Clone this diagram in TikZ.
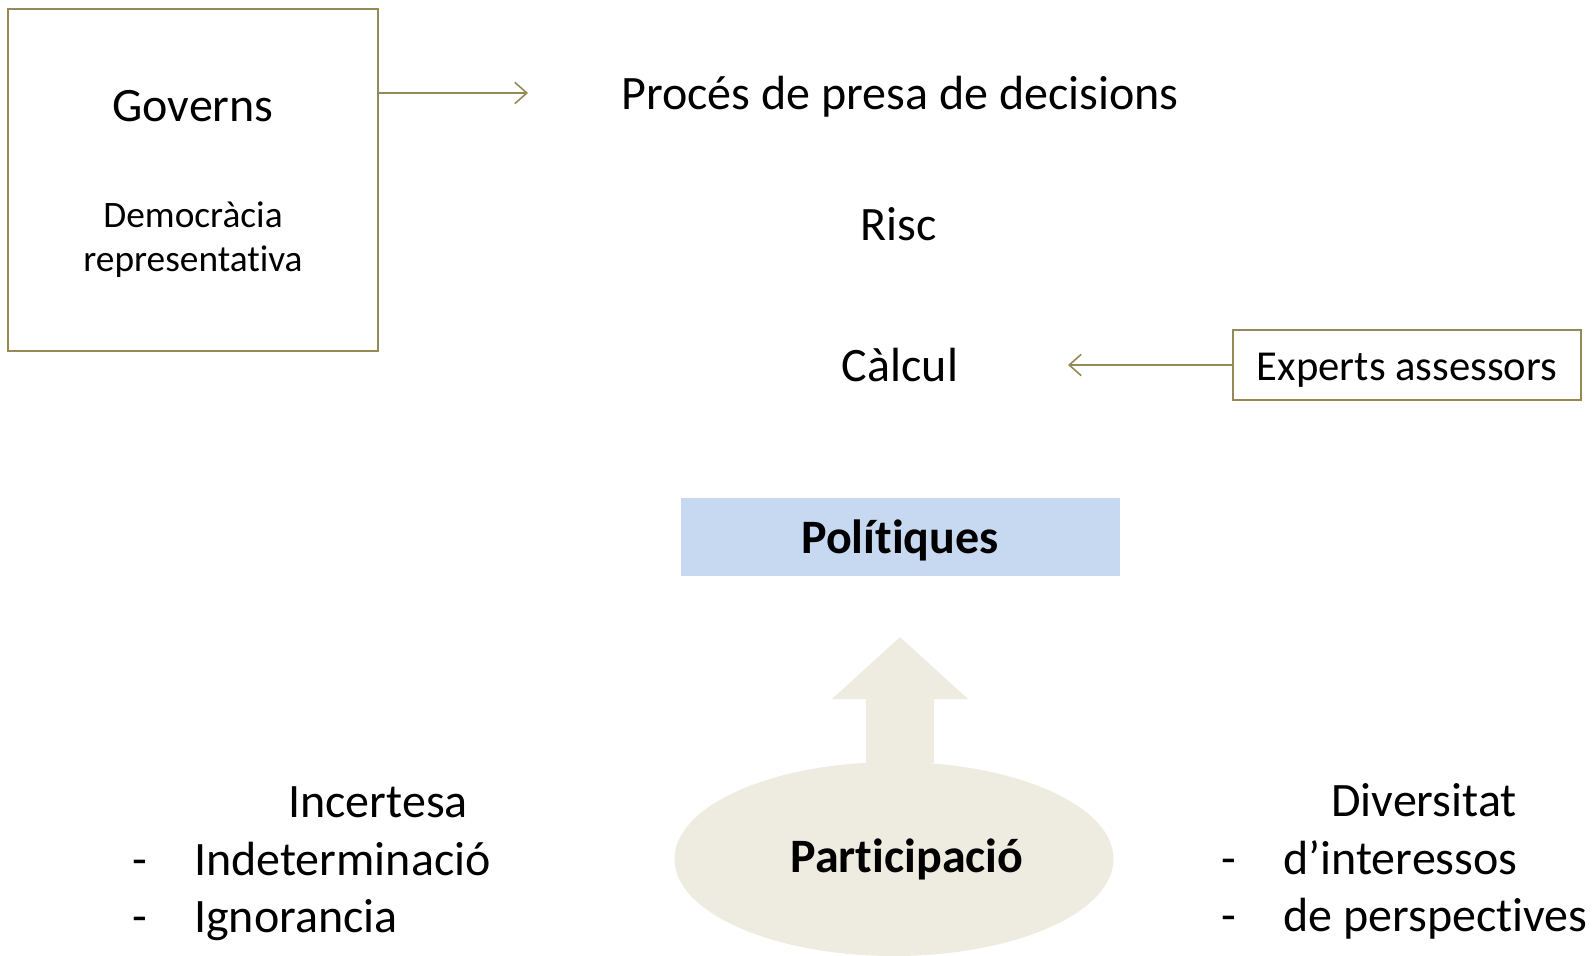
\documentclass[tikz,border=0pt]{standalone}
\usepackage{fontspec}
\setmainfont{Carlito}[RawFeature={-liga;-clig;-dlig;-calt}]
\usetikzlibrary{shapes.geometric,arrows.meta}
\definecolor{olive}{HTML}{948A54}
\definecolor{polblue}{HTML}{C6D9F1}
\definecolor{partbeige}{HTML}{EEECE1}
\tikzset{
  link/.style={draw=olive, line width=1.4pt, -{Straight Barb[length=9pt, width=16pt, line width=1.2pt]}},
  big/.style={font=\fontsize{36}{43}\selectfont, inner sep=0pt, anchor=base},
  bigbold/.style={big, font=\fontsize{36}{43}\selectfont\bfseries},
  small/.style={font=\fontsize{28}{33}\selectfont, inner sep=0pt, anchor=base},
}
\begin{document}
\begin{tikzpicture}[x=0.75pt, y=-0.75pt]
      \def\px{0.75pt}
      \useasboundingbox (0,0) rectangle (1592,956);
      %
      \node[draw=olive, line width=1.4pt, minimum width=370*\px, minimum height=342*\px] (gov) at (193,180) {};   % left box
      \node[big] (govtxt) at (193,122) {Governs};
      \node[small] (demo) at (193,227) {Democràcia};
      \node[small] (repr) at (193,271) {representativa};
      %
      \node[big] (proc) at (900,109) {Procés de presa de decisions};
      \node[big] (risc) at (899,240) {Risc};
      \node[big] (calc) at (900,381) {Càlcul};
      \coordinate (govtip) at (528,93);
      \draw[link] (gov.east |- govtip) -- (govtip);
      %
      \node[draw=olive, line width=1.4pt, minimum width=348*\px, minimum height=70*\px] (exp) at (1407,365) {};
      \node[big, font=\fontsize{32}{38}\selectfont] (exptxt) at (1407,380) {Experts assessors};
      \coordinate (exptip) at (1068,365);
      \draw[link] (exp.west) -- (exptip);
      %
      \node[fill=polblue, minimum width=439*\px, minimum height=78*\px] (pol) at (900.5,537) {};
      \node[bigbold] (poltxt) at (900,553) {Polítiques};
      % up arrow
      \fill[partbeige] (900,637) -- (968,699) -- (934,699) -- (934,763) -- (866,763) -- (866,699) -- (832,699) -- cycle;
      \node[ellipse, fill=partbeige, minimum width=439*\px, minimum height=194*\px] (part) at (894,859) {};
      \node[bigbold] (parttxt) at (907,872) {Participació};
      %
      \node[big] (inc) at (378,817) {Incertesa};
      \node[big, anchor=base west] (ind) at (194,875) {Indeterminació};
      \node[big, anchor=base west] (ign) at (194,932) {Ignorancia};
      \node[big] at (140,875) {-};
      \node[big] at (140,932) {-};
      %
      \node[big] (div) at (1424,816) {Diversitat};
      \node[big, anchor=base west] (inter) at (1283,874) {d’interessos};
      \node[big, anchor=base west] (persp) at (1283,931) {de perspectives};
      \node[big] at (1229,874) {-};
      \node[big] at (1229,931) {-};
      %
    \end{tikzpicture}
\end{document}
